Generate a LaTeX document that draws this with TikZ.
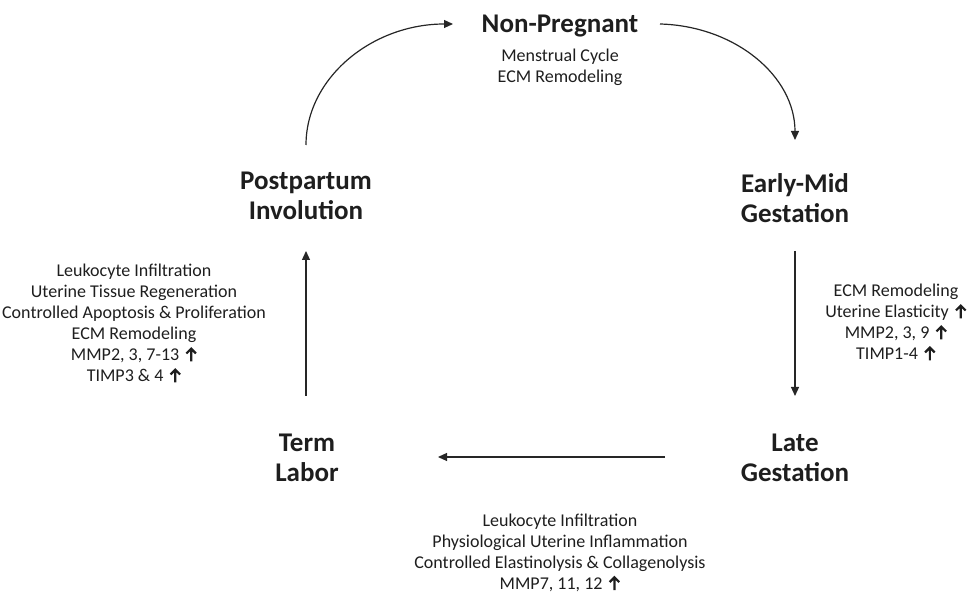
\documentclass[tikz,border=0pt]{standalone}
\usepackage{fontspec}
\setmainfont{Carlito}
\usetikzlibrary{arrows.meta}
\definecolor{txt}{HTML}{1E1E1E}
\definecolor{ln}{HTML}{262626}
\newcommand{\uparr}{\hspace{6pt}\tikz[baseline=0pt]{\draw[line width=2.2pt, line join=miter, draw=txt] (0pt,-0.5pt)--(0pt,12pt) (-4.8pt,7.5pt)--(0pt,12.3pt)--(4.8pt,7.5pt);}}
\begin{document}
\begin{tikzpicture}[x=1pt,y=-1pt,
  title/.style={font=\bfseries\fontsize{27}{30}\selectfont, align=center, inner sep=0pt, text=txt},
  desc/.style={font=\fontsize{18}{21}\selectfont, align=center, inner sep=0pt, text=txt},
  conn/.style={line width=1.2pt, draw=ln, -{Triangle[length=9pt,width=8pt]}}]
\useasboundingbox (0,0) rectangle (967,593);
% stage titles
\node[title, anchor=base] (np) at (560,33) {Non-Pregnant};
\node[title] (emg) at (795,198) {Early-Mid\\Gestation};
\node[title] (late) at (795,458) {Late\\Gestation};
\node[title] (term) at (307,458) {Term\\Labor};
\node[title] (pp) at (306,196) {Postpartum\\Involution};
% descriptions
\node[desc] (npd) at (560,67) {Menstrual Cycle\\ECM Remodeling};
\node[desc] (emgd) at (896,323) {ECM Remodeling\\Uterine Elasticity\uparr\\MMP2, 3, 9\uparr\\TIMP1-4\uparr};
\node[desc] (lated) at (560,553) {Leukocyte Infiltration\\Physiological Uterine Inflammation\\Controlled Elastinolysis \& Collagenolysis\\MMP7, 11, 12\uparr};
\node[desc] (ppd) at (134,324) {Leukocyte Infiltration\\Uterine Tissue Regeneration\\Controlled Apoptosis \& Proliferation\\ECM Remodeling\\MMP2, 3, 7-13\uparr\\TIMP3 \& 4\uparr};
% connector end points
\coordinate (a1) at (306,145);
\coordinate (a2) at (453,24);
\coordinate (b1) at (660,24);
\coordinate (b2) at (795,140);
\coordinate (c1) at (795,251);
\coordinate (c2) at (795,396);
\coordinate (d1) at (665,457);
\coordinate (d2) at (438,457);
\coordinate (e1) at (306,396);
\coordinate (e2) at (306,251);
% connectors
\draw[conn] (a1) .. controls (306,78) and (372,24) .. (a2);
\draw[conn] (b1) .. controls (735,26) and (795,76) .. (b2);
\draw[conn] (c1) -- (c2);
\draw[conn] (d1) -- (d2);
\draw[conn] (e1) -- (e2);
\end{tikzpicture}
\end{document}
